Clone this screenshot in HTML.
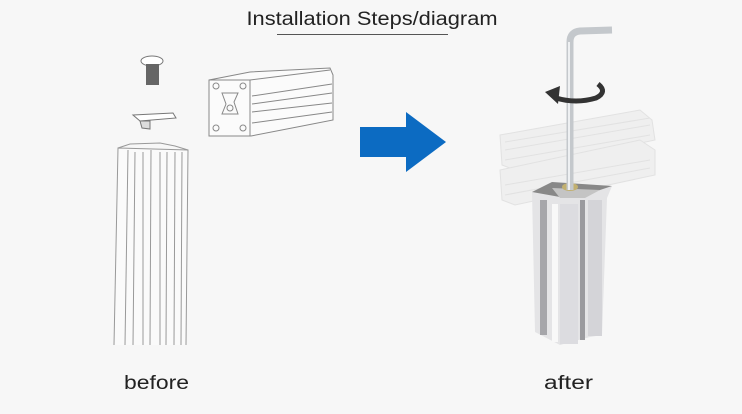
<!DOCTYPE html>
<html><head><meta charset="utf-8"><style>
html,body{margin:0;padding:0;background:#f7f7f7;width:742px;height:414px;overflow:hidden}
text{font-family:"Liberation Sans",sans-serif;fill:#222}
</style></head><body>
<svg width="742" height="414" viewBox="0 0 742 414" xmlns="http://www.w3.org/2000/svg">
<rect width="742" height="414" fill="#f7f7f7"/>
<text x="372" y="25" font-size="19" text-anchor="middle" textLength="251" lengthAdjust="spacingAndGlyphs">Installation Steps/diagram</text>
<line x1="277" y1="34.5" x2="448" y2="34.5" stroke="#555" stroke-width="1"/>
<text x="124" y="389" font-size="19" textLength="65" lengthAdjust="spacingAndGlyphs">before</text>
<text x="544" y="389" font-size="19" textLength="49" lengthAdjust="spacingAndGlyphs">after</text>

<ellipse cx="152" cy="61" rx="11" ry="5" fill="#fff" stroke="#777"/>
<rect x="146" y="64" width="13" height="21" fill="#666"/>
<path d="M133 115 L173 113 L176 118 L140 121 Z" fill="#fff" stroke="#777"/>
<path d="M140 121 L150 121 L150 129 L142 128 Z" fill="#ddd" stroke="#777"/>
<g fill="none" stroke="#888" stroke-width="1">
<path d="M209 80 L250 72 L330 68 L333 75 L333 120 L251 136 L209 136 Z" fill="#fbfbfb"/>
<path d="M209 80 L250 80 L250 136"/>
<path d="M250 80 L330 70"/>
<path d="M252 96 L332 84 M252 104 L332 93 M252 112 L332 103 M252 123 L332 112"/>
<circle cx="216" cy="86" r="3"/><circle cx="243" cy="86" r="3"/>
<circle cx="216" cy="128" r="3"/><circle cx="243" cy="128" r="3"/>
<path d="M222 93 L238 93 L234 102 L238 114 L222 114 L226 104 Z"/>
<circle cx="230" cy="108" r="3"/>
</g>
<g fill="none" stroke="#999" stroke-width="1">
<path d="M114 345 L118 148 L188 150 L186 345" fill="#fafafa"/>
<path d="M118 148 L130 144 L160 143 L175 146 L188 150"/>
<path d="M125 345 L128 150 M133 345 L135 152 M143 345 L143 152 M150 345 L151 150 M160 345 L160 152 M166 345 L167 152 M174 345 L175 152 M181 345 L182 152"/>
</g>

<path d="M360 127 L406 127 L406 112 L446 142 L406 172 L406 157 L360 157 Z" fill="#0c6bc2"/>

<g opacity="0.22" stroke="#999" fill="#d4d4d4" stroke-width="1">
<path d="M500 135 L640 110 L652 120 L655 140 L515 170 L502 165 Z"/>
<path d="M500 170 L640 140 L655 150 L655 175 L515 205 L502 200 Z"/>
<path d="M505 150 L650 125 M505 185 L650 160 M505 160 L650 135 M505 195 L650 168 M505 142 L650 118" fill="none"/>
</g>
<path d="M532 192 L552 182 L612 186 L607 198 L602 335 L590 337 L560 345 L535 332 Z" fill="#e4e4e6"/>
<path d="M532 192 L552 182 L612 186 L582 196 L560 197 Z" fill="#888"/>
<path d="M552 188 L600 190 L585 198 L560 198 Z" fill="#c4c4c4"/>
<rect x="540" y="200" width="7" height="135" fill="#a6a6aa"/>
<rect x="552" y="204" width="6" height="138" fill="#f8f8f8"/>
<rect x="560" y="204" width="18" height="140" fill="#dcdce0"/>
<rect x="580" y="200" width="5" height="140" fill="#9a9a9e"/>
<rect x="588" y="200" width="14" height="136" fill="#d4d4d8"/>
<ellipse cx="570" cy="187" rx="8" ry="4" fill="#c2b070"/>
<path d="M570 190 L570 42 Q570 32 580 31 L612 30" fill="none" stroke="#c4c8cc" stroke-width="7"/>
<path d="M569 190 L569 42" stroke="#eef0f2" stroke-width="2"/>
<path d="M598 84 Q608 92 596 98 Q576 104 556 98" fill="none" stroke="#333" stroke-width="5"/>
<path d="M545 92 L560 86 L558 104 Z" fill="#333"/>
</svg>
</body></html>
